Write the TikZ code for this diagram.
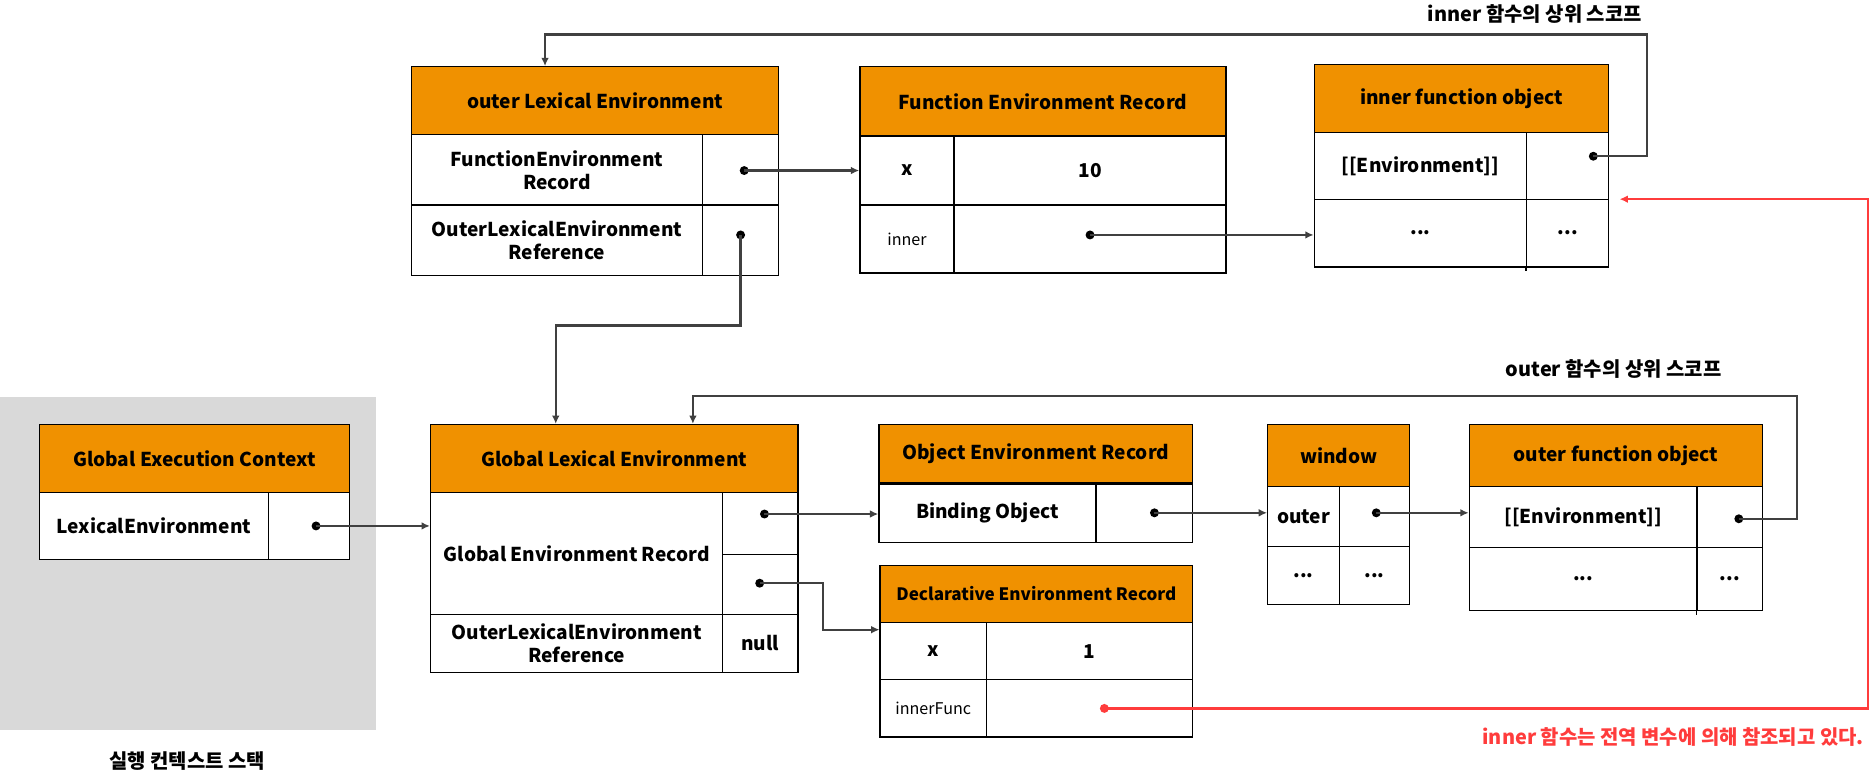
\documentclass[tikz,border=0pt]{standalone}
\usepackage{fontspec}
\setmainfont{Noto Sans CJK KR}
\usetikzlibrary{arrows.meta}
\definecolor{hdrorange}{HTML}{F09100}
\definecolor{stackgrey}{HTML}{D9D9D9}
\definecolor{linegrey}{HTML}{404040}
\definecolor{refred}{HTML}{FF3C3C}
\begin{document}
\begin{tikzpicture}[x=1pt,y=-1pt,
  wh/.style 2 args={minimum width=#1pt, minimum height=#2pt},
  cell/.style={draw=black, fill=white, line width=1.1pt, inner sep=0pt, align=center,
    font=\fontsize{16}{19}\selectfont\bfseries},
  smallcell/.style={cell, font=\fontsize{13.5}{16}\selectfont},
  hd/.style={cell, fill=hdrorange},
  dotn/.style={circle, fill=black, inner sep=0pt, minimum size=7.5pt},
  reddot/.style={dotn, fill=refred},
  conn/.style={draw=linegrey, line width=1.9pt, -{Latex[length=7pt,width=6.5pt]}},
  redconn/.style={conn, draw=refred},
  lbl/.style={font=\fontsize{16.7}{20}\selectfont\bfseries, inner sep=0pt}
]
\useasboundingbox (0,0) rectangle (1568,650);

% execution context stack background
\node[fill=stackgrey, inner sep=0pt, wh={315}{279}] (stack) at (157.5,472.5) {};
\node[lbl] (stacklbl) at (157,638) {실행 컨텍스트 스택};

% Global Execution Context
\node[hd, wh={260}{57}] (gecH) at (163,384.5) {Global Execution Context};
\node[cell, wh={192}{56}] (gecL) at (129,441) {LexicalEnvironment};
\node[cell, wh={68}{56}] (gecV) at (259,441) {};
\node[dotn] (d1) at (265,441) {};

% Global Lexical Environment
\node[hd, wh={308}{57}] (gleH) at (515,384.5) {Global Lexical Environment};
\node[cell, wh={245}{102}] (gleR) at (483.5,464) {Global Environment Record};
\node[cell, wh={63}{52}] (gleV1) at (637.5,439) {};
\node[cell, wh={63}{50}] (gleV2) at (637.5,490) {};
\node[cell, wh={245}{49}] (gleO) at (483.5,539.5) {OuterLexicalEnvironment\\Reference};
\node[cell, wh={63}{49}] (gleN) at (637.5,539.5) {null};
\node[dotn] (d2) at (641,431) {};
\node[dotn] (d3) at (637,489) {};

% Object Environment Record
\node[hd, wh={263}{49}] (oerH) at (868.5,380.5) {Object Environment Record};
\node[cell, wh={182}{50}] (oerB) at (828,430) {Binding Object};
\node[cell, wh={81}{50}] (oerV) at (959.5,430) {};
\draw[line width=2.2pt] (oerH.south west) -- (oerH.south east);
\node[dotn] (d4) at (968,430) {};

% window
\node[hd, wh={119}{52}] (winH) at (1122.5,382) {window};
\node[cell, wh={60}{50}] (winK1) at (1093,433) {outer};
\node[cell, wh={59}{50}] (winV1) at (1152.5,433) {};
\node[cell, wh={60}{49}] (winK2) at (1093,482.5) {...};
\node[cell, wh={59}{49}] (winV2) at (1152.5,482.5) {...};
\node[dotn] (d5) at (1154,430) {};

% outer function object
\node[hd, wh={246}{52}] (ofoH) at (1355,382) {outer function object};
\node[cell, wh={191}{51}] (ofoK1) at (1327.5,433.5) {[[Environment]]};
\node[cell, wh={55}{51}] (ofoV1) at (1450.5,433.5) {};
\node[cell, wh={191}{53}] (ofoK2) at (1327.5,485.5) {...};
\node[cell, wh={55}{53}] (ofoV2) at (1450.5,485.5) {...};
\draw[line width=1.1pt] (ofoV2.south west) -- ++(0,3);
\node[dotn] (d6) at (1458,435) {};

% Declarative Environment Record
\node[hd, wh={262}{48}, font=\fontsize{14.3}{17}\selectfont\bfseries] (derH) at (869,498) {Declarative Environment Record};
\node[cell, wh={89}{48}] (derK1) at (782.5,546) {x};
\node[cell, wh={173}{48}] (derV1) at (913.5,546) {1};
\node[smallcell, wh={89}{48}] (derK2) at (782.5,594) {innerFunc};
\node[cell, wh={173}{48}] (derV2) at (913.5,594) {};
\node[reddot] (d7) at (926,594) {};

% outer Lexical Environment
\node[hd, wh={308}{57}] (oleH) at (499,84.5) {outer Lexical Environment};
\node[cell, wh={244}{59}] (oleF) at (467,142.5) {FunctionEnvironment\\Record};
\node[cell, wh={64}{59}] (oleFV) at (621,142.5) {};
\node[cell, wh={244}{59}] (oleO) at (467,201.5) {OuterLexicalEnvironment\\Reference};
\node[cell, wh={64}{59}] (oleOV) at (621,201.5) {};
\node[dotn] (d8) at (624,143) {};
\node[dotn] (d9) at (621,197) {};

% Function Environment Record
\node[hd, wh={307}{58}] (ferH) at (874.5,85) {Function Environment Record};
\node[cell, wh={79}{58}] (ferK1) at (760.5,143) {x};
\node[cell, wh={228}{58}] (ferV1) at (914,143) {10};
\node[smallcell, wh={79}{57}] (ferK2) at (760.5,200.5) {inner};
\node[cell, wh={228}{57}] (ferV2) at (914,200.5) {};
\node[dotn] (d10) at (914,197) {};

% inner function object
\node[hd, wh={247}{57}] (ifoH) at (1225.5,82.5) {inner function object};
\node[cell, wh={178}{56}] (ifoK1) at (1191,139) {[[Environment]]};
\node[cell, wh={69}{56}] (ifoV1) at (1314.5,139) {};
\node[cell, wh={178}{57}] (ifoK2) at (1191,195.5) {...};
\node[cell, wh={69}{57}] (ifoV2) at (1314.5,195.5) {...};
\draw[line width=1.1pt] (ifoV2.south west) -- ++(0,3);
\node[dotn] (d11) at (1336,131) {};
\coordinate (redEnd) at (1358,167);

% labels
\node[lbl] (innerScope) at (1287,12) {inner 함수의 상위 스코프};
\node[lbl] (outerScope) at (1353,309) {outer 함수의 상위 스코프};
\node[lbl, text=refred, anchor=east] (refLbl) at (1563,618) {inner 함수는 전역 변수에 의해 참조되고 있다.};

% connectors
\draw[conn] (d1.center) -- (d1.center -| gleR.west);
\draw[conn] (d2.center) -- (d2.center -| oerB.west);
\draw[conn] (d3.center) -- ++(53,0) |- (derK1.north west |- 0,528);
\draw[conn] (d4.center) -- (d4.center -| winK1.west);
\draw[conn] (d5.center) -- (d5.center -| ofoK1.west);
\draw[conn] (d6.center) -- ++(49,0) -- ++(0,-103) -| (gleH.north -| 581,0);
\draw[redconn] (d7.center) -- ++(640,0) |- (redEnd);
\draw[conn] (d8.center) -- (d8.center -| ferK1.west);
\draw[conn] (d9.center) -- ++(0,76) -| (gleH.north -| 466,0);
\draw[conn] (d10.center) -- (d10.center -| ifoK2.west);
\draw[conn] (d11.center) -- ++(45,0) -- ++(0,-102) -| (oleH.north -| 457,0);
\end{tikzpicture}
\end{document}
